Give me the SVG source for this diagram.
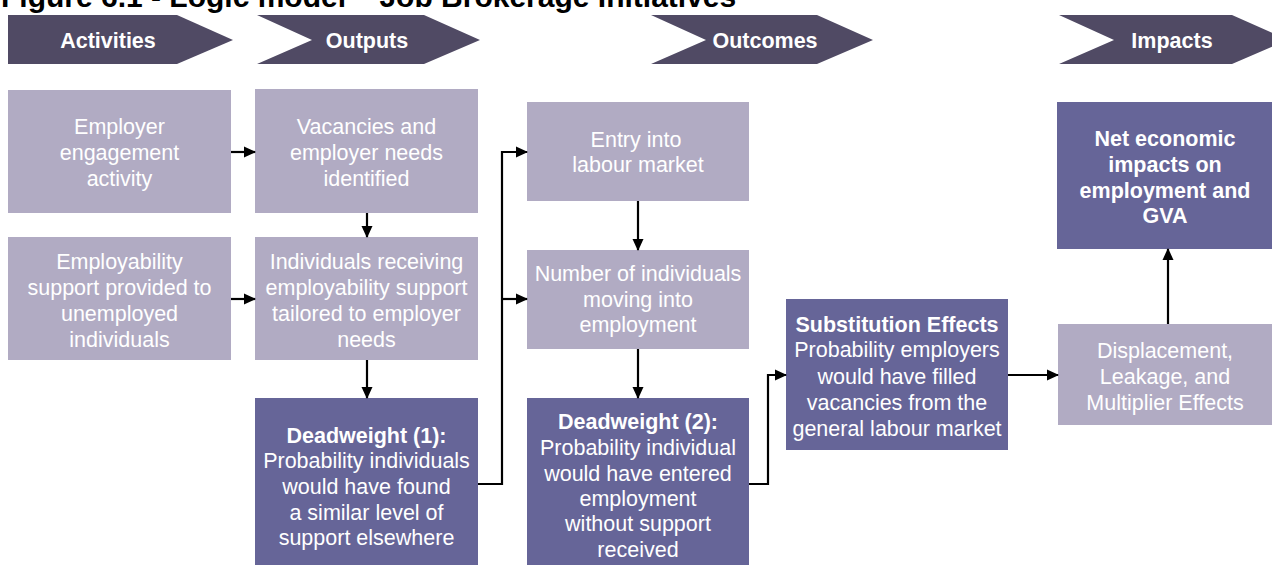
<svg xmlns="http://www.w3.org/2000/svg" width="1272" height="565" viewBox="0 0 1272 565">
<style>
.chev{fill:#504a64}
.lt{fill:#b1abc3}
.dk{fill:#666598}
text{font-family:"Liberation Sans",Arial,sans-serif;fill:#ffffff;text-anchor:middle;font-size:21.5px}
.b{font-weight:bold}
.hd{font-weight:bold;font-size:21.5px}
.title{fill:#000000;text-anchor:start;font-weight:bold;font-size:30px}
.cn{fill:none;stroke:#000000;stroke-width:2.2}
</style>
<defs>
<marker id="ah" markerWidth="12" markerHeight="12" refX="11" refY="6" orient="auto" markerUnits="userSpaceOnUse">
<path d="M0,0.5 L12,6 L0,11.5 Z" fill="#000000"/>
</marker>
</defs>
<rect width="1272" height="565" fill="#ffffff"/>
<text class="title" x="1" y="7">Figure 6.1 - Logic model – Job Brokerage Initiatives</text>

<g id="hdr-activities"><path class="chev" d="M8,15 L177,15 L233,40 L177,64 L8,64 Z"/><text class="hd" x="108" y="48">Activities</text></g>
<g id="hdr-outputs"><path class="chev" d="M257,15 L424,15 L480,40 L424,64 L257,64 L312,40 Z"/><text class="hd" x="367" y="48">Outputs</text></g>
<g id="hdr-outcomes"><path class="chev" d="M651,15 L817,15 L873,40 L817,64 L651,64 L706,40 Z"/><text class="hd" x="765" y="48">Outcomes</text></g>
<g id="hdr-impacts"><path class="chev" d="M1059,15 L1232,15 L1288,40 L1232,64 L1059,64 L1114,40 Z"/><text class="hd" x="1172" y="48">Impacts</text></g>

<g id="n-employer"><rect class="lt" x="8" y="90" width="223" height="123"/>
<text x="119.5" y="134">Employer</text><text x="119.5" y="160">engagement</text><text x="119.5" y="186">activity</text></g>
<g id="n-vacancies"><rect class="lt" x="255" y="89" width="223" height="124"/>
<text x="366.5" y="134">Vacancies and</text><text x="366.5" y="160">employer needs</text><text x="366.5" y="186">identified</text></g>
<g id="n-employability"><rect class="lt" x="8" y="237" width="223" height="123"/>
<text x="119.5" y="269">Employability</text><text x="119.5" y="295">support provided to</text><text x="119.5" y="321">unemployed</text><text x="119.5" y="347">individuals</text></g>
<g id="n-individuals"><rect class="lt" x="255" y="237" width="223" height="123"/>
<text x="366.5" y="269">Individuals receiving</text><text x="366.5" y="295">employability support</text><text x="366.5" y="321">tailored to employer</text><text x="366.5" y="347">needs</text></g>
<g id="n-deadweight1"><rect class="dk" x="255" y="398" width="223" height="167"/>
<text class="b" x="366.5" y="443">Deadweight (1):</text><text x="366.5" y="468">Probability individuals</text><text x="366.5" y="494">would have found</text><text x="366.5" y="520">a similar level of</text><text x="366.5" y="545">support elsewhere</text></g>
<g id="n-entry"><rect class="lt" x="527" y="102" width="222" height="99"/>
<text x="636" y="147">Entry into</text><text x="638" y="172">labour market</text></g>
<g id="n-number"><rect class="lt" x="527" y="250" width="222" height="99"/>
<text x="638" y="281">Number of individuals</text><text x="638" y="307">moving into</text><text x="638" y="332">employment</text></g>
<g id="n-deadweight2"><rect class="dk" x="527" y="398" width="222" height="167"/>
<text class="b" x="638" y="429">Deadweight (2):</text><text x="638" y="455">Probability individual</text><text x="638" y="481">would have entered</text><text x="638" y="506">employment</text><text x="638" y="531">without support</text><text x="638" y="557">received</text></g>
<g id="n-substitution"><rect class="dk" x="786" y="299" width="222" height="151"/>
<text class="b" x="897" y="332">Substitution Effects</text><text x="897" y="357">Probability employers</text><text x="897" y="384">would have filled</text><text x="897" y="410">vacancies from the</text><text x="897" y="436">general labour market</text></g>
<g id="n-displacement"><rect class="lt" x="1058" y="324" width="214" height="101"/>
<text x="1165" y="358">Displacement,</text><text x="1165" y="384">Leakage, and</text><text x="1165" y="410">Multiplier Effects</text></g>
<g id="n-net"><rect class="dk" x="1057" y="102" width="215" height="147"/>
<text class="b" x="1165" y="146">Net economic</text><text class="b" x="1165" y="172">impacts on</text><text class="b" x="1165" y="198">employment and</text><text class="b" x="1165" y="223">GVA</text></g>

<g id="connectors" class="cn">
<path class="cn" d="M231,152 L255,152" marker-end="url(#ah)"/>
<path class="cn" d="M231,299 L255,299" marker-end="url(#ah)"/>
<path class="cn" d="M367,213 L367,237" marker-end="url(#ah)"/>
<path class="cn" d="M367,360 L367,398" marker-end="url(#ah)"/>
<path class="cn" d="M478,484 L502,484 L502,152 L527,152" marker-end="url(#ah)"/>
<path class="cn" d="M502,299 L527,299" marker-end="url(#ah)"/>
<path class="cn" d="M638,201 L638,250" marker-end="url(#ah)"/>
<path class="cn" d="M638,349 L638,398" marker-end="url(#ah)"/>
<path class="cn" d="M749,484 L768,484 L768,375 L786,375" marker-end="url(#ah)"/>
<path class="cn" d="M1008,375 L1058,375" marker-end="url(#ah)"/>
<path class="cn" d="M1168,324 L1168,249" marker-end="url(#ah)"/>
</g>
</svg>
